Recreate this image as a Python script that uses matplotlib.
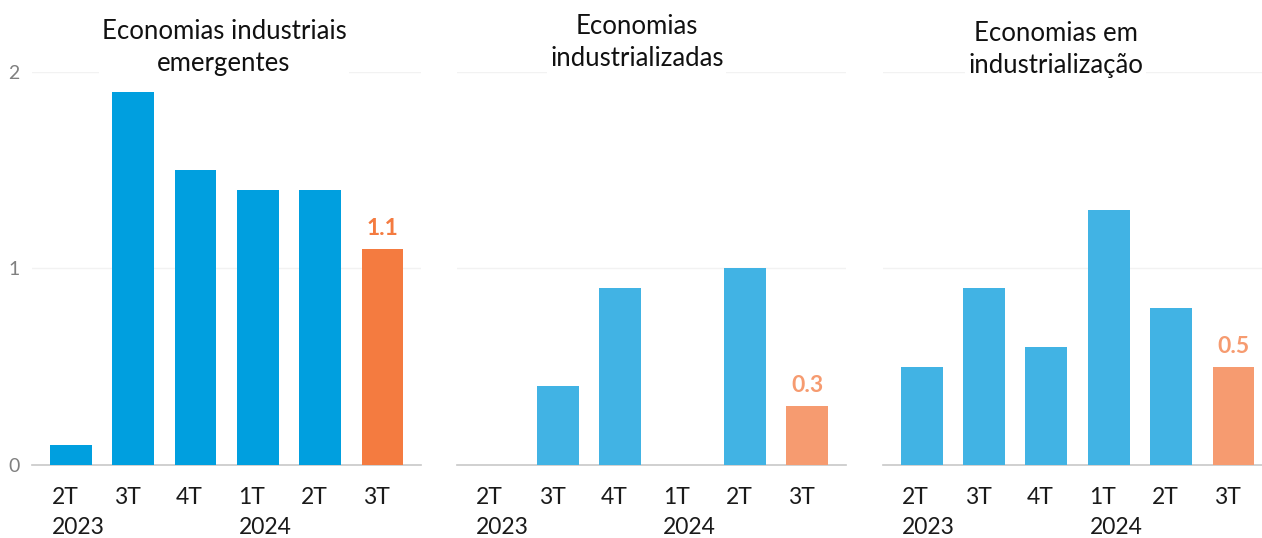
import matplotlib.pyplot as plt
from matplotlib.transforms import blended_transform_factory

plt.rcParams['font.family'] = ['Lato', 'DejaVu Sans']

quarters = ['2T', '3T', '4T', '1T', '2T', '3T']
years = {0: '2023', 3: '2024'}
titles = ['Economias industriais\nemergentes', 'Economias\nindustrializadas', 'Economias em\nindustrialização']
emerging = [0.1, 1.9, 1.5, 1.4, 1.4, 1.1]
industrialized = [0.0, 0.4, 0.9, 0.0, 1.0, 0.3]
industrializing = [0.5, 0.9, 0.6, 1.3, 0.8, 0.5]
series = [emerging, industrialized, industrializing]

blue = ['#009FDF', '#41B3E4', '#41B3E4']
orange = ['#F47B40', '#F69B70', '#F69B70']
lefts = [0.0254, 0.3621, 0.6997]
title_x = [0.1775, 0.5046, 0.8364]
title_y = [0.9126, 0.921, 0.908]

fig = plt.figure(figsize=(12.62, 5.38), dpi=100)

for k, vals in enumerate(series):
    ax = fig.add_axes([lefts[k], 0.1357, 0.3083, 0.7305])
    x = list(range(len(vals)))
    colors = [blue[k]] * (len(vals) - 1) + [orange[k]]
    ax.bar(x, vals, width=0.67, color=colors, zorder=3)
    ax.set_xlim(-0.62, 5.62)
    ax.set_ylim(0, 2)
    for g in (1, 2):
        ax.axhline(g, color='#F2F2F2', lw=1, zorder=1)
    for s in ('top', 'right', 'left'):
        ax.spines[s].set_visible(False)
    ax.spines['bottom'].set_color('#C8C8C8')
    ax.spines['bottom'].set_linewidth(1.2)
    ax.set_xticks([])
    if k == 0:
        ax.set_yticks([0, 1, 2])
        ax.tick_params(axis='y', length=0, labelsize=14, labelcolor='#808080', pad=9)
    else:
        ax.set_yticks([])
    tr = blended_transform_factory(ax.transData, ax.transAxes)
    for i, q in enumerate(quarters):
        ax.text(i - 0.31, -0.056, q, transform=tr, ha='left', va='top', fontsize=16.5, color='#1a1a1a')
        if i in years:
            ax.text(i - 0.31, -0.133, years[i], transform=tr, ha='left', va='top', fontsize=16.5, color='#1a1a1a')
    last = len(vals) - 1
    ax.text(last, vals[last] + 0.05, f'{vals[last]:.1f}', ha='center', va='bottom',
            fontsize=16.5, fontweight='bold', color=orange[k], zorder=4)
    fig.text(title_x[k], title_y[k], titles[k], ha='center', va='center',
             fontsize=18.5, color='#111111', linespacing=1.35,
             bbox=dict(facecolor='white', edgecolor='none', pad=2))

fig.savefig('out.png', dpi=100)
